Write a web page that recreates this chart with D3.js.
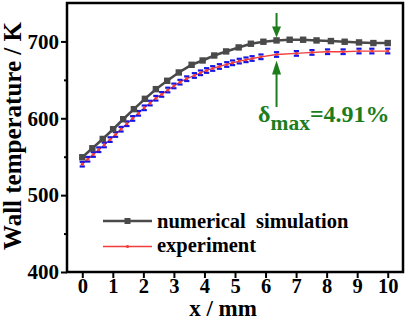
<!DOCTYPE html>
<html><head><meta charset="utf-8">
<script src="https://cdn.jsdelivr.net/npm/d3@7"></script>
<style>body{margin:0;background:#fff}svg{display:block}text{font-family:"Liberation Serif","Times New Roman",serif;font-weight:bold}</style>
</head><body><svg id="c" width="408" height="321"></svg>
<script>
const simX = [0,0.33,0.67,1.01,1.34,1.69,2.05,2.41,2.78,3.16,3.58,3.94,4.32,4.71,5.12,5.52,5.93,6.36,6.79,7.23,7.67,8.14,8.59,9.06,9.53,10.0];
const simY = [549.3,561,573.1,585.8,598.8,611.9,625.3,637.9,648.8,659.6,669.6,675.2,681.7,687,692.2,697,699.6,701.3,702.2,702.2,701.3,700.5,699.6,698.7,697.9,697.9];
const expX = [0,0.18,0.36,0.54,0.72,0.91,1.09,1.27,1.46,1.65,1.84,2.03,2.22,2.41,2.60,2.80,3.00,3.20,3.42,3.67,3.87,4.07,4.27,4.49,4.73,4.92,5.14,5.36,5.56,5.85,6.36,7.01,7.52,8.03,8.54,9.06,9.48,10.0];
const expY = [540.3,546.7,552.9,559.1,565.3,572.3,578.9,585.8,592.9,599.8,606.5,613.6,619.8,626.1,631.1,636.8,642.1,647,651.5,655.7,659.2,662.2,664.8,667.4,670,672.2,674.4,676.1,677.8,680,683,684.4,685.7,686.6,686.6,687.5,687.5,687.5];
const expErr = 3;
const xTicks = [0,1,2,3,4,5,6,7,8,9,10];
const yTicks = [400,500,600,700];
const yMinor = [450,550,650];
const seriesNames = ["numerical  simulation","experiment"];
const annot = {x:6.36, label:"=4.91%"};

const svg = d3.select("#c");
const x = d3.scaleLinear().domain([-0.5,10.5]).range([67,403]);
const y = d3.scaleLinear().domain([400,750]).range([272,3]);

const gray="#4a4a4a", red="#f23b3b", blue="#1515e6", green="#1d7d1d";

// axes
const xa = svg.append("g").attr("transform","translate(0,272)")
  .call(d3.axisBottom(x).tickValues(xTicks).tickSize(6).tickPadding(0).tickFormat(d3.format("d")));
const ya = svg.append("g").attr("transform","translate(67,0)")
  .call(d3.axisLeft(y).tickValues(yTicks).tickSize(6).tickPadding(2).tickFormat(d3.format("d")));
svg.append("g").attr("transform","translate(67,0)")
  .call(d3.axisLeft(y).tickValues(yMinor).tickSize(3).tickFormat(""))
  .select(".domain").remove();
[xa,ya].forEach(g=>{
  g.select(".domain").remove();
  g.selectAll(".tick text").attr("font-size",21).attr("fill","#000")
   .style("font-family",'"Liberation Serif",serif').style("font-weight","bold");
});
xa.selectAll(".tick text").attr("font-size",20.5);
svg.selectAll("g .tick line").attr("stroke","#000").attr("stroke-width",2);

// frame
svg.append("rect").attr("x",67).attr("y",3).attr("width",336).attr("height",269)
  .attr("fill","none").attr("stroke","#000").attr("stroke-width",2.5);

// experiment
const expData = expX.map((v,i)=>[v,expY[i]]);
const line = d3.line().x(d=>x(d[0])).y(d=>y(d[1]));
svg.append("path").datum(expData).attr("d",line).attr("fill","none").attr("stroke",red).attr("stroke-width",1.3);
const eg = svg.append("g");
expData.forEach(d=>{
  const cx=x(d[0]);
  [d[1]+expErr,d[1]-expErr].forEach(v=>{
    eg.append("line").attr("x1",cx-2.6).attr("x2",cx+2.6).attr("y1",y(v)).attr("y2",y(v))
      .attr("stroke",blue).attr("stroke-width",2.2);
  });
  eg.append("circle").attr("cx",cx).attr("cy",y(d[1])).attr("r",1.6).attr("fill",red);
});

// simulation
const simData = simX.map((v,i)=>[v,simY[i]]);
svg.append("path").datum(simData).attr("d",line).attr("fill","none").attr("stroke",gray).attr("stroke-width",2.6);
svg.append("g").selectAll("rect").data(simData).join("rect")
  .attr("x",d=>x(d[0])-3.2).attr("y",d=>y(d[1])-3.2).attr("width",6.4).attr("height",6.4).attr("fill",gray);

// legend
svg.append("line").attr("x1",103).attr("x2",152).attr("y1",221).attr("y2",221).attr("stroke",gray).attr("stroke-width",2.6);
svg.append("rect").attr("x",124.5).attr("y",218).attr("width",6).attr("height",6).attr("fill",gray);
svg.append("text").attr("x",157).attr("y",228).attr("font-size",20.5).attr("fill","#000").style("white-space","pre").text(seriesNames[0]);
svg.append("line").attr("x1",103).attr("x2",152).attr("y1",246.5).attr("y2",246.5).attr("stroke",red).attr("stroke-width",1.3);
svg.append("circle").attr("cx",127.5).attr("cy",246.5).attr("r",1.6).attr("fill",red);
svg.append("text").attr("x",157).attr("y",252).attr("font-size",20.5).attr("fill","#000").text(seriesNames[1]);

// annotation arrows
const ax = x(annot.x);
const simAt = simY[simX.indexOf(annot.x)], expAt = expY[expX.indexOf(annot.x)];
svg.append("line").attr("x1",ax).attr("x2",ax).attr("y1",13).attr("y2",y(simAt)-12).attr("stroke",green).attr("stroke-width",2);
svg.append("path").attr("d",`M${ax-4.5},${y(simAt)-14}L${ax+4.5},${y(simAt)-14}L${ax},${y(simAt)-3}Z`).attr("fill",green);
svg.append("line").attr("x1",ax).attr("x2",ax).attr("y1",y(expAt)+18).attr("y2",107).attr("stroke",green).attr("stroke-width",2);
svg.append("path").attr("d",`M${ax-4.5},${y(expAt)+20}L${ax+4.5},${y(expAt)+20}L${ax},${y(expAt)+6}Z`).attr("fill",green);
const at = svg.append("text").attr("x",258).attr("y",122).attr("fill",green).attr("font-size",24);
at.append("tspan").text("δ");
at.append("tspan").attr("font-size",21.5).attr("dy",8).text("max");
at.append("tspan").attr("dy",-8).text(annot.label);

// axis titles
svg.append("text").attr("x",223).attr("y",316).attr("text-anchor","middle").attr("font-size",23).text("x / mm");
svg.append("text").attr("transform","translate(21,136) rotate(-90)").attr("text-anchor","middle").attr("font-size",25).text("Wall temperature / K");
</script></body></html>
